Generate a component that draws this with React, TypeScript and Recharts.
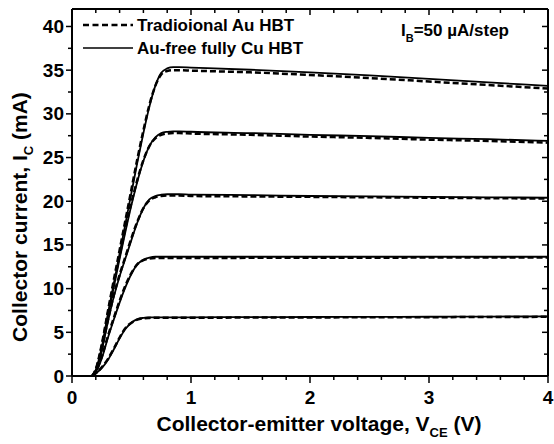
import { LineChart, Line, XAxis, YAxis, ReferenceLine } from 'recharts'

// collector-emitter voltage (V)
const VCE = [0, 0.17, 0.2, 0.25, 0.3, 0.35, 0.4, 0.45, 0.5, 0.55, 0.6, 0.65, 0.7, 0.75, 0.8, 0.85, 0.9, 1.0, 1.5, 2.0, 2.5, 3.0, 3.5, 4.0]

// collector current (mA), Au-free fully Cu HBT (solid), IB = 50..250 uA
const CU_50 = [null, 0, 0.3, 0.9, 1.8, 3.0, 4.3, 5.4, 6.1, 6.5, 6.65, 6.7, 6.72, 6.72, 6.72, 6.72, 6.72, 6.72, 6.74, 6.75, 6.77, 6.78, 6.8, 6.82]
const CU_100 = [null, 0, 0.45, 2.0, 4.3, 6.4, 8.4, 10.2, 11.7, 12.8, 13.3, 13.55, 13.65, 13.65, 13.65, 13.65, 13.65, 13.65, 13.65, 13.65, 13.65, 13.65, 13.65, 13.65]
const CU_150 = [null, 0, 0.55, 2.9, 6.1, 9.0, 11.4, 13.5, 15.6, 17.6, 19.2, 20.2, 20.6, 20.75, 20.8, 20.8, 20.8, 20.75, 20.7, 20.6, 20.55, 20.5, 20.45, 20.4]
const CU_200 = [null, 0, 0.6, 3.1, 6.7, 10.1, 13.4, 16.6, 19.6, 22.3, 24.6, 26.3, 27.3, 27.8, 27.95, 28.0, 28.0, 27.95, 27.8, 27.6, 27.45, 27.25, 27.1, 26.9]
const CU_250 = [null, 0, 0.7, 3.3, 7.0, 10.5, 14.0, 17.5, 21.0, 24.5, 27.8, 30.8, 33.2, 34.7, 35.2, 35.35, 35.35, 35.3, 35.05, 34.75, 34.4, 34.0, 33.6, 33.2]

// traditional Au HBT (dashed)
const AU_50 = [null, 0, 0.3, 1.0, 1.9, 3.1, 4.4, 5.5, 6.1, 6.45, 6.6, 6.65, 6.67, 6.67, 6.67, 6.67, 6.67, 6.67, 6.69, 6.7, 6.72, 6.73, 6.75, 6.77]
const AU_100 = [null, 0, 0.5, 2.2, 4.5, 6.6, 8.6, 10.4, 11.8, 12.8, 13.25, 13.45, 13.5, 13.5, 13.5, 13.5, 13.5, 13.5, 13.52, 13.53, 13.54, 13.55, 13.55, 13.55]
const AU_150 = [null, 0, 0.6, 3.1, 6.3, 9.2, 11.6, 13.7, 15.8, 17.7, 19.2, 20.1, 20.45, 20.6, 20.65, 20.65, 20.65, 20.6, 20.55, 20.5, 20.45, 20.4, 20.35, 20.3]
const AU_200 = [null, 0, 0.7, 3.4, 7.0, 10.5, 13.8, 17.0, 19.9, 22.5, 24.7, 26.3, 27.2, 27.6, 27.75, 27.8, 27.8, 27.75, 27.6, 27.4, 27.25, 27.05, 26.9, 26.7]
const AU_250 = [null, 0, 0.8, 3.6, 7.3, 10.9, 14.4, 17.9, 21.4, 24.9, 28.1, 31.0, 33.2, 34.5, 34.9, 35.0, 35.0, 34.95, 34.75, 34.45, 34.1, 33.7, 33.3, 32.9]

// IB = 0
const ZERO = VCE.map(() => 0)

const X_TICKS = [0, 0.2, 0.4, 0.6, 0.8, 1, 1.2, 1.4, 1.6, 1.8, 2, 2.2, 2.4, 2.6, 2.8, 3, 3.2, 3.4, 3.6, 3.8, 4]
const Y_TICKS = [0, 2.5, 5, 7.5, 10, 12.5, 15, 17.5, 20, 22.5, 25, 27.5, 30, 32.5, 35, 37.5, 40]
const X_MAX = 4
const Y_MAX = 42

const CU_SERIES = [CU_50, CU_100, CU_150, CU_200, CU_250]
const AU_SERIES = [AU_50, AU_100, AU_150, AU_200, AU_250]

const LEGEND = [
  { name: 'Tradioional Au HBT', dash: '6 3.5' },
  { name: 'Au-free fully Cu HBT', dash: undefined },
]

const data = VCE.map((v, i) => {
  const row: Record<string, number | null> = { v, zero: ZERO[i] }
  CU_SERIES.forEach((s, k) => (row['cu' + k] = s[i]))
  AU_SERIES.forEach((s, k) => (row['au' + k] = s[i]))
  return row
})

const FONT = '"Liberation Sans", Arial, sans-serif'
// recharts' default tickSize (6) + tickMargin (2): custom ticks get a position this far off the axis
const TICK_OFF = 8

function BottomTick({ x, y, payload }: any) {
  const major = Number.isInteger(payload.value)
  const ay = y - TICK_OFF
  return (
    <g>
      <line x1={x} x2={x} y1={ay} y2={ay + (major ? 7 : 4)} stroke="#000" strokeWidth={1.5} />
      {major && (
        <text x={x} y={ay + 28} textAnchor="middle" fontSize={19} fontWeight="bold" fontFamily={FONT} fill="#000">
          {payload.value}
        </text>
      )}
    </g>
  )
}

function LeftTick({ x, y, payload }: any) {
  const major = payload.value % 5 === 0
  const ax = x + TICK_OFF
  return (
    <g>
      <line x1={ax} x2={ax - (major ? 6 : 4)} y1={y} y2={y} stroke="#000" strokeWidth={1.5} />
      {major && (
        <text x={ax - 8} y={y + 6.5} textAnchor="end" fontSize={19} fontWeight="bold" fontFamily={FONT} fill="#000">
          {payload.value}
        </text>
      )}
    </g>
  )
}

// inward ticks on the top edge, drawn from a vertical reference line
const topTick = (len: number) => (p: any) => {
  const top = Math.min(p.y1, p.y2)
  return <line x1={p.x1} x2={p.x1} y1={top} y2={top + len} stroke="#000" strokeWidth={1.5} />
}

// inward ticks on the right edge, drawn from a horizontal reference line
const rightTick = (len: number) => (p: any) => {
  const right = Math.max(p.x1, p.x2)
  return <line x1={right} x2={right - len} y1={p.y1} y2={p.y1} stroke="#000" strokeWidth={1.5} />
}

const axisLine = { stroke: '#000', strokeWidth: 2 }

export default function App() {
  return (
    <div style={{ position: 'absolute', left: 0, top: 0, width: 554, height: 444 }}>
      <LineChart width={554} height={444} data={data} margin={{ top: 9, right: 6, bottom: 0, left: 0 }}>
        <XAxis
          dataKey="v"
          type="number"
          domain={[0, X_MAX]}
          ticks={X_TICKS}
          interval={0}
          height={68}
          axisLine={axisLine}
          tickLine={false}
          tick={<BottomTick />}
        />
        <YAxis
          type="number"
          domain={[0, Y_MAX]}
          ticks={Y_TICKS}
          interval={0}
          width={72}
          axisLine={axisLine}
          tickLine={false}
          tick={<LeftTick />}
        />
        <ReferenceLine y={Y_MAX} stroke="#000" strokeWidth={2} ifOverflow="visible" />
        <ReferenceLine x={X_MAX} stroke="#000" strokeWidth={2} ifOverflow="visible" />
        {X_TICKS.map((t) => (
          <ReferenceLine key={'tx' + t} x={t} ifOverflow="visible" shape={topTick(Number.isInteger(t) ? 6 : 4)} />
        ))}
        {Y_TICKS.map((t) => (
          <ReferenceLine key={'ry' + t} y={t} ifOverflow="visible" shape={rightTick(t % 5 === 0 ? 6 : 4)} />
        ))}
        <Line
          dataKey="zero"
          stroke="#9a9a9a"
          strokeWidth={1.5}
          strokeDasharray="6 3"
          dot={false}
          isAnimationActive={false}
        />
        {AU_SERIES.map((_, k) => (
          <Line
            key={'au' + k}
            type="monotone"
            dataKey={'au' + k}
            stroke="#000"
            strokeWidth={2.5}
            strokeDasharray="6 3"
            dot={false}
            isAnimationActive={false}
          />
        ))}
        {CU_SERIES.map((_, k) => (
          <Line
            key={'cu' + k}
            type="monotone"
            dataKey={'cu' + k}
            stroke="#000"
            strokeWidth={1.8}
            dot={false}
            isAnimationActive={false}
          />
        ))}
      </LineChart>
      <svg
        width={554}
        height={444}
        style={{ position: 'absolute', left: 0, top: 0, pointerEvents: 'none' }}
        fontFamily={FONT}
        fontWeight="bold"
        fill="#000"
      >
        {LEGEND.map((e, i) => (
          <g key={e.name}>
            <line x1={83} x2={133} y1={25 + i * 23} y2={25 + i * 23} stroke="#000" strokeWidth={e.dash ? 2.5 : 1.5} strokeDasharray={e.dash} />
            <text x={137} y={31 + i * 23} fontSize={17}>{e.name}</text>
          </g>
        ))}
        <text x={401} y={36} fontSize={17}>
          I<tspan fontSize={11} dy={6}>B</tspan>
          <tspan dy={-6}>=50 µA/step</tspan>
        </text>
        <text x={319} y={431} fontSize={21} textAnchor="middle">
          Collector-emitter voltage, V<tspan fontSize={13} dy={6}>CE</tspan>
          <tspan dy={-6}> (V)</tspan>
        </text>
        <text transform="translate(27,217) rotate(-90)" fontSize={21} textAnchor="middle">
          Collector current, I<tspan fontSize={13} dy={6}>C</tspan>
          <tspan dy={-6}> (mA)</tspan>
        </text>
      </svg>
    </div>
  )
}
